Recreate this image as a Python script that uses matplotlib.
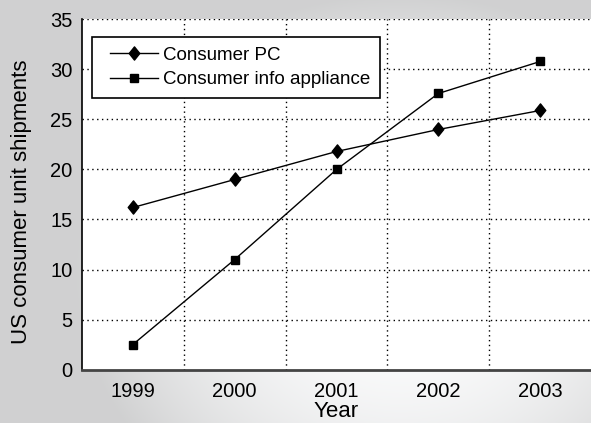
import numpy as np
import matplotlib
matplotlib.use("Agg")
import matplotlib.pyplot as plt
from matplotlib.path import Path
from matplotlib.legend_handler import HandlerLine2D

plt.rcParams['font.family'] = ['Liberation Sans', 'DejaVu Sans']

years = ["1999", "2000", "2001", "2002", "2003"]
consumer_pc = [16.2, 19.0, 21.8, 24.0, 25.9]
info_appliance = [2.5, 11.0, 20.0, 27.6, 30.8]
y_ticks = [0, 5, 10, 15, 20, 25, 30, 35]

W, H = 591, 423
fig = plt.figure(figsize=(W / 100, H / 100), dpi=100)

# soft grey backdrop, lighter towards the centre-right
bg = fig.add_axes([0, 0, 1, 1], zorder=-10)
xx, yy = np.meshgrid(np.linspace(0, 1, 300), np.linspace(0, 1, 220))
d = ((xx - 0.68) / 0.75) ** 2 + ((yy - 0.35) / 0.9) ** 2
shade = np.clip(1.0 - 0.33 * d, 0.82, 1.0)
img = np.dstack([shade * 0.995, shade * 0.997, shade * 1.0])
bg.imshow(img, aspect='auto', extent=[0, 1, 0, 1], origin='lower')
bg.set_axis_off()

left, right = 82 / W, 1.0
bottom, top = 1 - 369.5 / H, 1 - 19.5 / H
ax = fig.add_axes([left, bottom, right - left, top - bottom])
ax.set_facecolor('white')

# slightly narrow diamond
diamond = Path([(0, 1), (0.8, 0), (0, -1), (-0.8, 0), (0, 1)],
               [Path.MOVETO, Path.LINETO, Path.LINETO, Path.LINETO, Path.CLOSEPOLY])

x = np.arange(1, len(years) + 1)
ax.plot(x, consumer_pc, color='black', lw=1.0, marker=diamond, ms=9.5,
        label='Consumer PC', zorder=3)
ax.plot(x, info_appliance, color='black', lw=1.0, marker='s', ms=6.4,
        label='Consumer info appliance', zorder=3)

ax.set_xlim(0.5, len(years) + 0.5)
ax.set_ylim(0, 35)
ax.set_yticks(y_ticks)
ax.set_xticks(x)
ax.set_xticklabels(years)

# dotted grid: horizontal at the y ticks, vertical between the categories
for yv in y_ticks[1:]:
    ax.axhline(yv, color='black', lw=1, ls=(0, (1, 2.5)), zorder=1)
for xv in np.arange(1.5, len(years) + 0.5, 1.0):
    ax.axvline(xv, color='black', lw=1, ls=(0, (1, 2.5)), zorder=1)

for s in ['top', 'right']:
    ax.spines[s].set_visible(False)
ax.spines['left'].set_color('black')
ax.spines['left'].set_linewidth(1.2)
ax.spines['bottom'].set_color('#444444')
ax.spines['bottom'].set_linewidth(2)

ax.tick_params(axis='both', labelsize=14.5, length=0)
ax.tick_params(axis='x', pad=9)
ax.tick_params(axis='y', pad=7)
fig.text(336 / W, 1 - 417 / H, 'Year', fontsize=16, ha='center', va='baseline')
fig.text(22 / W, 1 - 201.5 / H, 'US consumer unit shipments', fontsize=16,
         rotation=90, ha='center', va='center')

handler = {ln: HandlerLine2D(xpad=0.48) for ln in ax.get_lines()}
leg = ax.legend(loc='upper left', bbox_to_anchor=(0.0196, 0.95), fontsize=13.5,
                frameon=True, fancybox=False, handlelength=3.0,
                borderpad=0.5, labelspacing=0.41, handletextpad=0.3,
                borderaxespad=0, handler_map=handler)
leg.get_frame().set_edgecolor('black')
leg.get_frame().set_linewidth(1.2)
leg.get_frame().set_facecolor('white')
leg.get_frame().set_alpha(1)

fig.savefig('out.png', dpi=100)
